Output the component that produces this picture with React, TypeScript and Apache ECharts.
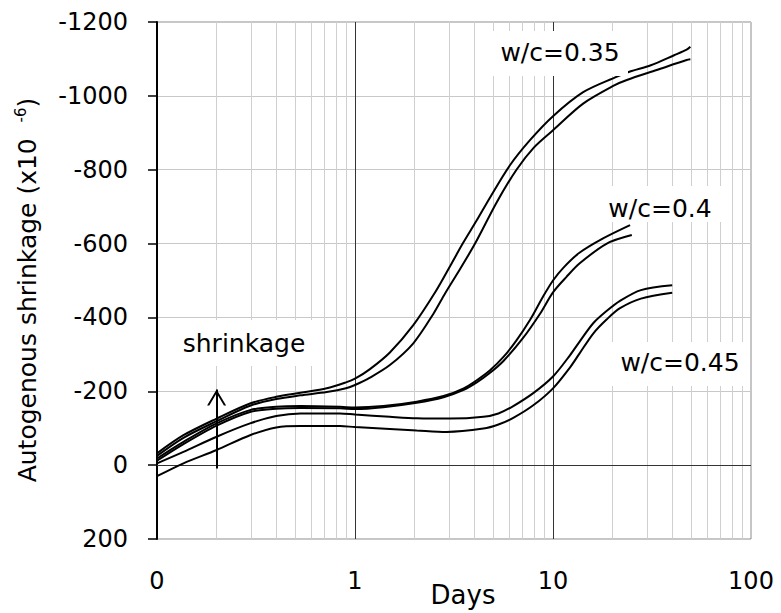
import React, { useEffect, useRef } from "react";
import * as echarts from "echarts";

// Days (log scale) vs autogenous shrinkage (x10^-6); negative = shrinkage
const wc035Upper: [number, number][] = [
  [0.1, -32], [0.136, -81], [0.2, -126], [0.295, -167], [0.4, -185], [0.53, -196],
  [0.72, -208], [0.9, -224], [1, -234], [1.19, -260], [1.5, -305], [1.97, -379],
  [2.54, -468], [3.03, -540], [3.5, -600], [4.12, -663], [4.81, -725],
  [6.06, -812], [7.65, -880], [10, -945], [14.2, -1010], [20.6, -1050], [24.5, -1066],
  [31.2, -1083], [40.9, -1110], [47.3, -1125], [49.4, -1133],
];
const wc035Lower: [number, number][] = [
  [0.1, -25], [0.136, -74], [0.2, -119], [0.295, -161], [0.4, -179], [0.53, -189],
  [0.72, -198], [0.9, -208], [1, -217], [1.19, -237], [1.5, -271], [1.97, -330],
  [2.49, -410], [2.85, -465], [3.4, -532], [4.04, -600], [5.2, -712], [6.54, -800],
  [8, -860], [10, -907], [14.2, -979], [20.5, -1029], [23.6, -1043], [33.4, -1070],
  [47.3, -1097], [49.4, -1099],
];
const wc04Upper: [number, number][] = [
  [0.1, -18], [0.136, -63], [0.2, -113], [0.295, -149], [0.4, -158], [0.53, -160],
  [0.84, -158], [1, -156], [1.39, -160], [2.05, -172], [2.8, -187], [3.54, -208],
  [4.12, -230], [4.81, -257], [5.62, -293], [6.54, -338], [7.65, -393], [8.9, -456],
  [10, -500], [11.3, -535], [13.6, -575], [17.9, -614], [24.5, -650],
];
const wc04Lower: [number, number][] = [
  [0.1, -12], [0.136, -57], [0.2, -107], [0.295, -144], [0.4, -153], [0.53, -155],
  [0.84, -154], [1, -152], [1.39, -157], [2.05, -169], [2.8, -184], [3.54, -204],
  [4.12, -224], [4.81, -250], [5.62, -282], [7.03, -343], [8.6, -410], [10, -468],
  [11.7, -510], [13.6, -546], [18.7, -600], [25, -623],
];
const wc045Upper: [number, number][] = [
  [0.1, -5], [0.136, -36], [0.2, -77], [0.295, -113], [0.4, -133], [0.53, -140],
  [0.84, -140], [1, -137], [1.5, -131], [2.05, -127], [3.03, -126], [4.45, -131],
  [5.3, -140], [6.3, -160], [7.95, -195], [10, -240], [12.2, -298], [13.6, -334],
  [16, -385], [18.7, -418], [21.8, -445], [27.8, -474], [40, -487],
];
const wc045Lower: [number, number][] = [
  [0.1, 30], [0.136, -5], [0.2, -41], [0.295, -81], [0.4, -102], [0.53, -106],
  [0.84, -106], [1, -103], [1.5, -98], [2.05, -94], [2.9, -90], [4.45, -99],
  [5.3, -110], [6.3, -128], [7.95, -162], [10, -208], [12.2, -265], [13.6, -302],
  [16, -357], [18.7, -395], [21.8, -425], [27.8, -451], [40, -467],
];

const minorGridDays = [
  0.2, 0.3, 0.4, 0.5, 0.6, 0.7, 0.8, 0.9,
  2, 3, 4, 5, 6, 7, 8, 9,
  20, 30, 40, 50, 60, 70, 80, 90,
];
const majorGridDays = [1, 10];
const arrowDay = 0.2;
const arrowFrom = 9;
const arrowTo = -205;

const yMin = -1200;
const yMax = 200;
const yStep = 200;

const labels = [
  { text: "w/c=0.35", cx: 560, cy: 52, box: [490, 31, 138, 45] },
  { text: "w/c=0.4", cx: 660, cy: 208, box: [598, 186, 124, 36] },
  { text: "w/c=0.45", cx: 680, cy: 362, box: [604, 342, 146, 44] },
  { text: "shrinkage", cx: 244, cy: 343, box: [170, 320, 146, 46] },
];

const FONT = "DejaVu Sans";

export default function App() {
  const ref = useRef<HTMLDivElement>(null);
  useEffect(() => {
    const chart = echarts.init(ref.current!, null, { renderer: "svg" });
    const curve = (name: string, data: [number, number][]) => ({
      type: "line",
      name,
      data,
      showSymbol: false,
      smooth: 0.3,
      silent: true,
      z: 5,
      lineStyle: { color: "#000", width: 2 },
    });
    const graphics: any[] = [];
    labels.forEach((l) => {
      graphics.push({
        type: "rect",
        z: 50,
        shape: { x: l.box[0], y: l.box[1], width: l.box[2], height: l.box[3] },
        style: { fill: "#fff" },
      });
      graphics.push({
        type: "text",
        z: 51,
        x: l.cx,
        y: l.cy,
        style: {
          text: l.text,
          fontSize: 25,
          fontFamily: FONT,
          fill: "#000",
          align: "center",
          verticalAlign: "middle",
        },
      });
    });
    graphics.push({
      type: "text",
      z: 51,
      x: 27,
      y: 290,
      rotation: Math.PI / 2,
      style: {
        text: "{n|Autogenous shrinkage (x10  }{s|-6}{n|)}",
        align: "center",
        verticalAlign: "middle",
        fill: "#000",
        fontFamily: FONT,
        rich: {
          n: { fontSize: 25, fontFamily: FONT, fill: "#000", lineHeight: 30 },
          s: { fontSize: 15, fontFamily: FONT, fill: "#000", padding: [0, 0, 12, 0] },
        },
      },
    });
    graphics.push({
      type: "text",
      z: 51,
      x: 463,
      y: 595,
      style: {
        text: "Days",
        fontSize: 26,
        fontFamily: FONT,
        fill: "#000",
        align: "center",
        verticalAlign: "middle",
      },
    });

    chart.setOption({
      animation: false,
      textStyle: { fontFamily: FONT },
      grid: {
        left: 157,
        right: 30,
        top: 22,
        bottom: 74,
        show: true,
        containLabel: false,
        outerBoundsMode: "none",
        borderColor: "#8c8c8c",
        borderWidth: 1,
        backgroundColor: "#fff",
      },
      xAxis: {
        type: "log",
        logBase: 10,
        min: 0.1,
        max: 100,
        axisLine: { show: false, onZero: false },
        axisTick: { show: false },
        splitLine: { show: false },
        minorTick: { show: false },
        axisLabel: {
          fontSize: 24,
          color: "#000",
          margin: 30,
          formatter: (v: number) => (v < 1 ? "0" : String(Math.round(v))),
        },
      },
      yAxis: {
        type: "value",
        inverse: true,
        min: yMin,
        max: yMax,
        interval: yStep,
        axisLine: { show: true, onZero: false, lineStyle: { color: "#000", width: 2 } },
        axisTick: { show: true, inside: false, length: 9, lineStyle: { color: "#000", width: 1.5 } },
        axisLabel: { fontSize: 24, color: "#000", margin: 29, formatter: (v: number) => String(v) },
        splitLine: { show: true, lineStyle: { color: "#c8c8c8", width: 1 } },
      },
      series: [
        {
          type: "line",
          data: [],
          z: 1,
          silent: true,
          markLine: {
            silent: true,
            symbol: "none",
            label: { show: false },
            animation: false,
            lineStyle: { color: "#cfcfcf", width: 1, type: "solid" },
            data: minorGridDays.map((d) => ({ xAxis: d })),
          },
        },
        {
          type: "line",
          data: [],
          z: 2,
          silent: true,
          markLine: {
            silent: true,
            symbol: "none",
            label: { show: false },
            animation: false,
            lineStyle: { color: "#333", width: 1, type: "solid" },
            data: [...majorGridDays.map((d) => ({ xAxis: d })), { yAxis: 0 }],
          },
        },
        curve("w/c=0.35 a", wc035Upper),
        curve("w/c=0.35 b", wc035Lower),
        curve("w/c=0.4 a", wc04Upper),
        curve("w/c=0.4 b", wc04Lower),
        curve("w/c=0.45 a", wc045Upper),
        curve("w/c=0.45 b", wc045Lower),
        {
          type: "line",
          data: [],
          z: 6,
          silent: true,
          markLine: {
            silent: true,
            animation: false,
            symbol: "none",
            label: { show: false },
            lineStyle: { color: "#000", width: 2, type: "solid" },
            data: [[{ coord: [arrowDay, arrowFrom] }, { coord: [arrowDay, arrowTo] }]],
          },
          markPoint: {
            silent: true,
            animation: false,
            symbol: "path://M0,16 L9.5,0 L19,16 L16.8,16 L9.5,3.8 L2.2,16 Z",
            symbolSize: [19, 16],
            symbolOffset: [0, 8],
            itemStyle: { color: "#000" },
            label: { show: false },
            data: [{ coord: [arrowDay, arrowTo] }],
          },
        },
      ],
      graphic: graphics,
    });
    return () => chart.dispose();
  }, []);
  return (
    <div
      ref={ref}
      style={{ position: "absolute", left: 0, top: 0, width: 781, height: 613, background: "#fff" }}
    />
  );
}
